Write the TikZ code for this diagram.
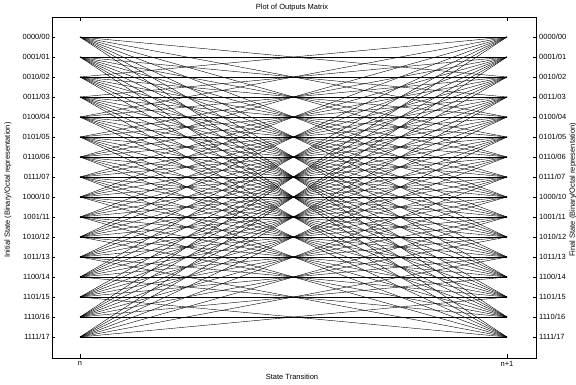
\documentclass[tikz,border=0pt]{standalone}
\usepackage{fontspec}
\setmainfont{Liberation Sans}

\begin{document}
\begin{tikzpicture}[x=1pt, y=-1pt, font=\fontsize{7.5}{9}\selectfont,
    trans/.style={black, line width=0.4pt},
    tick/.style={black, line width=0.5pt}]
    \useasboundingbox (0,0) rectangle (576,385);

    % 标题与坐标框
    \node (title) at (292,8) {Plot of Outputs Matrix};
    \draw[line width=0.6pt] (52,17) rectangle (536,358);

    % 状态点 (二进制/八进制)
    \foreach \lab [count=\i from 0] in {0000/00,0001/01,0010/02,0011/03,0100/04,0101/05,0110/06,0111/07,1000/10,1001/11,1010/12,1011/13,1100/14,1101/15,1110/16,1111/17} {
        \coordinate (L\i) at (80, 37+20*\i);
        \coordinate (R\i) at (507, 37+20*\i);
        \draw[tick] (52, 37+20*\i) -- (55, 37+20*\i);
        \draw[tick] (536, 37+20*\i) -- (533, 37+20*\i);
        \node[left, inner sep=1pt] (ls\i) at (51, 37+20*\i) {\lab};
        \node[right, inner sep=1pt] (rs\i) at (538, 37+20*\i) {\lab};
    }

    % 状态转移: 奇偶相同的状态之间
    \foreach \i in {0,...,15} {
        \foreach \k [evaluate=\k as \j using {int(mod(\i,2)+2*\k)}] in {0,...,7} {
            \draw[trans] (L\i) -- (R\j);
        }
    }

    % x 轴刻度
    \draw[tick] (80,358) -- (80,354);
    \draw[tick] (80,17) -- (80,21);
    \draw[tick] (507,358) -- (507,354);
    \draw[tick] (507,17) -- (507,21);
    \node[below, inner sep=1pt] (tn) at (80,360) {n};
    \node[below, inner sep=1pt] (tn1) at (507,360) {n+1};

    % 轴标签
    \node (xlab) at (292,377) {State Transition};
    \node[rotate=90] (ylab) at (8,190) {Initial State (Binary/Octal representation)};
    \node[rotate=90] (ylab2) at (573,190) {Final State (Binary/Octal representation)};
\end{tikzpicture}
\end{document}
